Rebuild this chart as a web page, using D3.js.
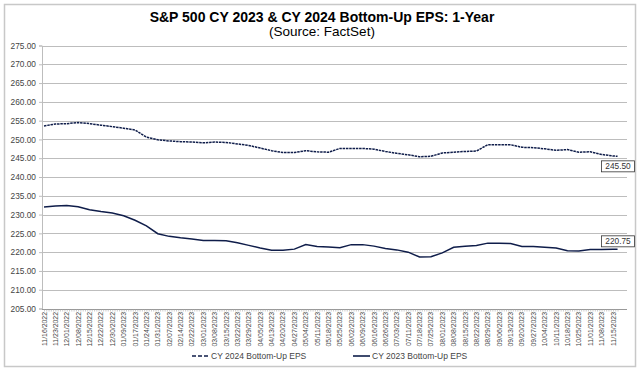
<!DOCTYPE html>
<html>
<head>
<meta charset="utf-8">
<script src="https://cdn.jsdelivr.net/npm/d3@7"></script>
<style>
  body { margin: 0; background: #fff; }
  svg { font-family: "Liberation Sans", Arial, sans-serif; }
</style>
</head>
<body>
<svg id="chart"></svg>
<script>
// weekly axis labels (every 5 trading days)
const weekLabels = [
    "11/16/2022", "11/23/2022", "12/01/2022", "12/08/2022", "12/15/2022", "12/22/2022", "12/30/2022",
    "01/09/2023", "01/17/2023", "01/24/2023", "01/31/2023", "02/07/2023", "02/14/2023", "02/22/2023",
    "03/01/2023", "03/08/2023", "03/15/2023", "03/22/2023", "03/29/2023", "04/05/2023", "04/13/2023",
    "04/20/2023", "04/27/2023", "05/04/2023", "05/11/2023", "05/18/2023", "05/25/2023", "06/02/2023",
    "06/09/2023", "06/16/2023", "06/26/2023", "07/03/2023", "07/11/2023", "07/18/2023", "07/25/2023",
    "08/01/2023", "08/08/2023", "08/15/2023", "08/22/2023", "08/29/2023", "09/06/2023", "09/13/2023",
    "09/20/2023", "09/27/2023", "10/04/2023", "10/11/2023", "10/18/2023", "10/25/2023", "11/01/2023",
    "11/08/2023", "11/15/2023"
];

// trading day index of each value (labels every 5 days, last value 2 days after last label)
const tradingDays = d3.range(0, 251, 5).concat([252]);

const eps2024 = [
    253.6, 254.1, 254.2, 254.5, 254.2, 253.8, 253.4, 253.0, 252.5, 250.6,
    249.9, 249.6, 249.4, 249.3, 249.1, 249.3, 249.2, 248.8, 248.4, 247.7,
    247.0, 246.5, 246.5, 247.0, 246.7, 246.6, 247.6, 247.6, 247.6, 247.4,
    246.8, 246.3, 245.9, 245.4, 245.5, 246.4, 246.6, 246.8, 246.9, 248.6,
    248.6, 248.6, 247.9, 247.8, 247.5, 247.1, 247.3, 246.6, 246.7, 246.0,
    245.6, 245.50
];

const eps2023 = [
    232.0, 232.3, 232.4, 232.1, 231.3, 230.8, 230.4, 229.7, 228.5, 227.0,
    224.9, 224.2, 223.8, 223.5, 223.1, 223.1, 223.0, 222.5, 221.8, 221.1,
    220.5, 220.5, 220.8, 222.0, 221.5, 221.4, 221.2, 222.0, 222.0, 221.6,
    221.0, 220.6, 220.0, 218.7, 218.8, 219.8, 221.3, 221.6, 221.8, 222.4,
    222.4, 222.3, 221.5, 221.5, 221.3, 221.1, 220.4, 220.3, 220.7, 220.7,
    220.75, 220.75
];

const yTicks = d3.range(205, 276, 5);

const seriesNames = ["CY 2024 Bottom-Up EPS", "CY 2023 Bottom-Up EPS"];

const width = 640, height = 371;
const plot = { left: 42, right: 627, top: 45.5, bottom: 308.5 };
const lineColor = "#0f1d4a";

const svg = d3.select("#chart")
    .attr("width", width)
    .attr("height", height);

// outer frame
svg.append("rect")
    .attr("x", 4.5).attr("y", 4.5)
    .attr("width", 631).attr("height", 362)
    .attr("fill", "#fff")
    .attr("stroke", "#c8c8c8")
    .attr("stroke-width", 1.5);

// title
svg.append("text")
    .attr("x", 322).attr("y", 21.5)
    .attr("text-anchor", "middle")
    .attr("font-size", 14).attr("font-weight", "bold")
    .text("S&P 500 CY 2023 & CY 2024 Bottom-Up EPS: 1-Year");
svg.append("text")
    .attr("x", 322).attr("y", 36)
    .attr("text-anchor", "middle")
    .attr("font-size", 13.5)
    .text("(Source: FactSet)");

const x = d3.scaleLinear()
    .domain([0, 250])
    .range([44, 613]);

const y = d3.scaleLinear()
    .domain([205, 275])
    .range([plot.bottom, plot.top]);

// gridlines
svg.append("g")
    .selectAll("line")
    .data(yTicks)
    .enter()
    .append("line")
    .attr("x1", plot.left).attr("x2", plot.right)
    .attr("y1", d => Math.round(y(d)) + 0.5)
    .attr("y2", d => Math.round(y(d)) + 0.5)
    .attr("stroke", "#bdbdbd")
    .attr("stroke-width", 1);

// y axis
const yAxis = svg.append("g")
    .attr("transform", `translate(${plot.left},0)`)
    .call(d3.axisLeft(y).tickValues(yTicks).tickFormat(d3.format(".2f")).tickSize(3));
yAxis.select(".domain").attr("stroke", "#bdbdbd");
yAxis.selectAll(".tick line").attr("stroke", "#bdbdbd");
yAxis.selectAll(".tick text")
    .attr("font-family", "Liberation Sans, Arial, sans-serif")
    .attr("font-size", 8.3)
    .attr("fill", "#444");

// x axis: a tick per trading day, label every 5 days
const xAxis = svg.append("g")
    .attr("transform", `translate(0,${Math.round(plot.bottom) + 0.5})`)
    .call(d3.axisBottom(x).tickValues(d3.range(0, 253)).tickSize(2).tickFormat(""));
xAxis.select(".domain")
    .attr("d", `M${plot.left},0H${plot.right}`)
    .attr("stroke", "#999");
xAxis.selectAll(".tick line").attr("stroke", "#aaa").attr("stroke-width", 0.6);

svg.append("g")
    .selectAll("text")
    .data(weekLabels)
    .enter()
    .append("text")
    .attr("transform", (d, i) => `translate(${x(tradingDays[i]) + 2.5},${plot.bottom + 3.5}) rotate(-90)`)
    .attr("text-anchor", "end")
    .attr("font-size", 6.9)
    .attr("fill", "#444")
    .text(d => d);

// lines
const line = d3.line()
    .x((d, i) => x(tradingDays[i]))
    .y(d => y(d));

svg.append("path")
    .datum(eps2024)
    .attr("d", line)
    .attr("fill", "none")
    .attr("stroke", lineColor)
    .attr("stroke-width", 1.5)
    .attr("stroke-dasharray", "2.5,0.8");

svg.append("path")
    .datum(eps2023)
    .attr("d", line)
    .attr("fill", "none")
    .attr("stroke", lineColor)
    .attr("stroke-width", 1.5);

// end value labels
const endValues = [eps2024[eps2024.length - 1], eps2023[eps2023.length - 1]];
const endOffsets = [10, -8];
endValues.forEach(function(v, i) {
    const cy = y(v) + endOffsets[i];
    const g = svg.append("g");
    g.append("rect")
        .attr("x", 601.5).attr("y", cy - 5.5)
        .attr("width", 33).attr("height", 11)
        .attr("fill", "#fff")
        .attr("stroke", "#333")
        .attr("stroke-width", 0.8);
    g.append("text")
        .attr("x", 618).attr("y", cy + 3)
        .attr("text-anchor", "middle")
        .attr("font-size", 8.3)
        .attr("fill", "#333")
        .text(d3.format(".2f")(v));
});

// legend
const legendX = [192, 353];
const legend = svg.append("g");
seriesNames.forEach(function(name, i) {
    legend.append("line")
        .attr("x1", legendX[i]).attr("x2", legendX[i] + 17)
        .attr("y1", 356).attr("y2", 356)
        .attr("stroke", lineColor)
        .attr("stroke-width", 1.6)
        .attr("stroke-dasharray", i === 0 ? "4,2" : null);
    legend.append("text")
        .attr("x", legendX[i] + 19).attr("y", 359)
        .attr("font-size", 8.5)
        .attr("fill", "#444")
        .text(name);
});
</script>
</body>
</html>
